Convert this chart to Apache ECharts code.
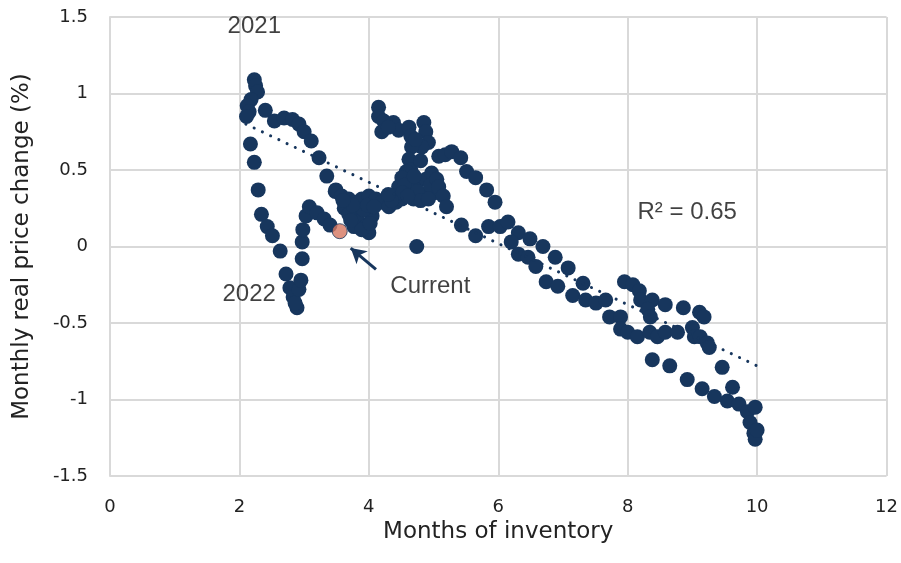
<!DOCTYPE html>
<html>
<head>
<meta charset="utf-8">
<script src="https://cdn.jsdelivr.net/npm/echarts@6/dist/echarts.min.js"></script>
<style>
  html, body { margin: 0; padding: 0; background: #fff; }
  #chart { width: 901px; height: 563px; }
</style>
</head>
<body>
<div id="chart"></div>
<script>
// months of inventory vs monthly real price change (%)
const historyPoints = [
  // 2021 peak and left arm
  [2.23, 1.09], [2.25, 1.05], [2.28, 1.01], [2.18, 0.96], [2.12, 0.92], [2.15, 0.88], [2.11, 0.85],
  [2.40, 0.89], [2.54, 0.82], [2.69, 0.84], [2.82, 0.83], [2.92, 0.80], [3.00, 0.75], [3.11, 0.69],
  [3.23, 0.58], [3.35, 0.46], [3.48, 0.36],
  [2.17, 0.67], [2.23, 0.55], [2.29, 0.37], [2.34, 0.21], [2.43, 0.13], [2.51, 0.07], [2.63, -0.03],
  [2.72, -0.18], [2.78, -0.27], [2.83, -0.33], [2.89, -0.40], [2.86, -0.37],
  // 2022 right arm
  [2.92, -0.28], [2.95, -0.22], [2.97, -0.08], [2.97, 0.03], [2.98, 0.11], [3.03, 0.20], [3.08, 0.26],
  [3.20, 0.22], [3.31, 0.18], [3.40, 0.14],
  // cluster 3.4 - 4.5
  [3.49, 0.37], [3.58, 0.33], [3.69, 0.31], [3.80, 0.29], [3.89, 0.31], [4.00, 0.33], [4.11, 0.31],
  [4.20, 0.29], [4.31, 0.26], [4.42, 0.29], [4.51, 0.31], [3.80, 0.22], [3.85, 0.16], [3.95, 0.13],
  [4.00, 0.09], [3.77, 0.13], [3.89, 0.11], [4.05, 0.20], [3.62, 0.25], [3.69, 0.21], [3.92, 0.24],
  [3.75, 0.27], [3.98, 0.27], [4.08, 0.26], [3.60, 0.30], [4.02, 0.15], [3.72, 0.17],
  // upper cluster 4.1 - 5.3
  [4.15, 0.91], [4.15, 0.85], [4.23, 0.82], [4.20, 0.75], [4.38, 0.81], [4.46, 0.76], [4.62, 0.78],
  [4.65, 0.72], [4.85, 0.81], [4.88, 0.75], [4.92, 0.68], [4.82, 0.65], [4.66, 0.65], [4.62, 0.57],
  [4.65, 0.50], [4.58, 0.49], [4.51, 0.45], [4.46, 0.39], [4.42, 0.33], [4.62, 0.39], [4.74, 0.42],
  [4.88, 0.44], [4.97, 0.48], [4.69, 0.31], [4.85, 0.34], [5.00, 0.35],
  [4.55, 0.40], [4.75, 0.36], [4.80, 0.30], [4.95, 0.40], [4.52, 0.35], [4.35, 0.30], [4.30, 0.34],
  [4.60, 0.33], [4.92, 0.31], [5.05, 0.44], [4.70, 0.46], [4.80, 0.56], [4.72, 0.70], [4.30, 0.78],
  [5.08, 0.59], [5.18, 0.60], [5.28, 0.62], [5.42, 0.58], [5.51, 0.49], [5.65, 0.45], [5.82, 0.37],
  [5.95, 0.29], [5.08, 0.39], [5.15, 0.33], [5.20, 0.26], [5.43, 0.14], [5.65, 0.07], [5.85, 0.13],
  [4.74, 0.00],
  // diagonal 6 - 8
  [6.03, 0.13], [6.15, 0.16], [6.31, 0.09], [6.20, 0.03], [6.49, 0.05], [6.69, 0.00], [6.31, -0.05],
  [6.46, -0.07], [6.58, -0.13], [6.88, -0.07], [7.08, -0.14], [6.74, -0.23], [6.92, -0.26],
  [7.31, -0.24], [7.15, -0.32], [7.35, -0.35], [7.51, -0.37], [7.66, -0.35], [7.72, -0.46], [7.89, -0.46],
  // 8 - 10
  [7.95, -0.23], [8.08, -0.25], [8.18, -0.29], [8.20, -0.35], [8.38, -0.35], [8.58, -0.38], [8.86, -0.40],
  [9.11, -0.43], [9.18, -0.46], [8.31, -0.41], [8.35, -0.46], [7.89, -0.54], [8.00, -0.56], [8.15, -0.59],
  [8.34, -0.56], [8.46, -0.59], [8.58, -0.56], [8.77, -0.56], [9.00, -0.53], [9.03, -0.59], [9.12, -0.59],
  [9.23, -0.63], [9.26, -0.66], [8.38, -0.74], [8.65, -0.78], [8.92, -0.87], [9.15, -0.93], [9.34, -0.98],
  [9.46, -0.79], [9.62, -0.92], [9.54, -1.01], [9.72, -1.03], [9.85, -1.08], [9.97, -1.05], [9.89, -1.15],
  [9.95, -1.22], [9.97, -1.26], [10.0, -1.20]
];
const currentPoint = [[3.55, 0.10]];
const trendLine = [[2.1, 0.80], [10.0, -0.78]];
const notes = [
  { text: '2021', at: [2.23, 1.44] },
  { text: '2022', at: [2.15, -0.31] },
  { text: 'Current', at: [4.95, -0.26] },
  { text: 'R\u00b2 = 0.65', at: [8.92, 0.22] }
];
const arrowFrom = [4.11, -0.15];
const arrowTo = [3.72, -0.01];

const navy = '#17365d';
const chart = echarts.init(document.getElementById('chart'));

const option = {
    animation: false,
    grid: {
        left: 110,
        right: 12,
        top: 17,
        bottom: 87
    },
    xAxis: {
        type: 'value',
        min: 0,
        max: 12,
        interval: 2,
        name: 'Months of inventory',
        nameLocation: 'middle',
        nameGap: 42,
        nameTextStyle: { fontFamily: 'DejaVu Sans', fontSize: 23, color: '#222' },
        axisLine: { show: true, lineStyle: { color: '#d9d9d9', width: 2 } },
        axisTick: { show: false },
        axisLabel: { fontFamily: 'DejaVu Sans', fontSize: 18, color: '#222', margin: 22 },
        splitLine: { show: true, lineStyle: { color: '#d9d9d9', width: 2 } }
    },
    yAxis: {
        type: 'value',
        min: -1.5,
        max: 1.5,
        interval: 0.5,
        name: 'Monthly real price change (%)',
        nameLocation: 'middle',
        nameGap: 76,
        nameTextStyle: { fontFamily: 'DejaVu Sans', fontSize: 23, color: '#222' },
        axisLine: { show: true, lineStyle: { color: '#d9d9d9', width: 2 } },
        axisTick: { show: false },
        axisLabel: { fontFamily: 'DejaVu Sans', fontSize: 18, color: '#222', margin: 22 },
        splitLine: { show: true, lineStyle: { color: '#d9d9d9', width: 2 } }
    },
    series: [
        {
            type: 'scatter',
            data: historyPoints,
            symbolSize: 15,
            itemStyle: { color: navy, opacity: 1 }
        },
        {
            type: 'line',
            data: trendLine,
            symbol: 'none',
            lineStyle: { color: navy, width: 3, type: [0.1, 9], cap: 'round' },
            markLine: {
                silent: true,
                symbol: ['none', 'arrow'],
                symbolSize: [13, 15],
                label: { show: false },
                lineStyle: { color: navy, width: 3, type: 'solid' },
                data: [[{ coord: arrowFrom }, { coord: arrowTo }]]
            }
        },
        {
            type: 'scatter',
            data: currentPoint,
            symbolSize: 15,
            itemStyle: { color: '#d5765f', borderColor: navy, borderWidth: 1 }
        },
        {
            type: 'scatter',
            data: notes.map(n => ({ value: n.at, label: { formatter: n.text } })),
            symbolSize: 0,
            silent: true,
            label: {
                show: true,
                position: 'inside',
                fontFamily: 'Liberation Sans',
                fontSize: 24,
                color: '#111'
            }
        }
    ]
};

chart.setOption(option);
</script>
</body>
</html>
